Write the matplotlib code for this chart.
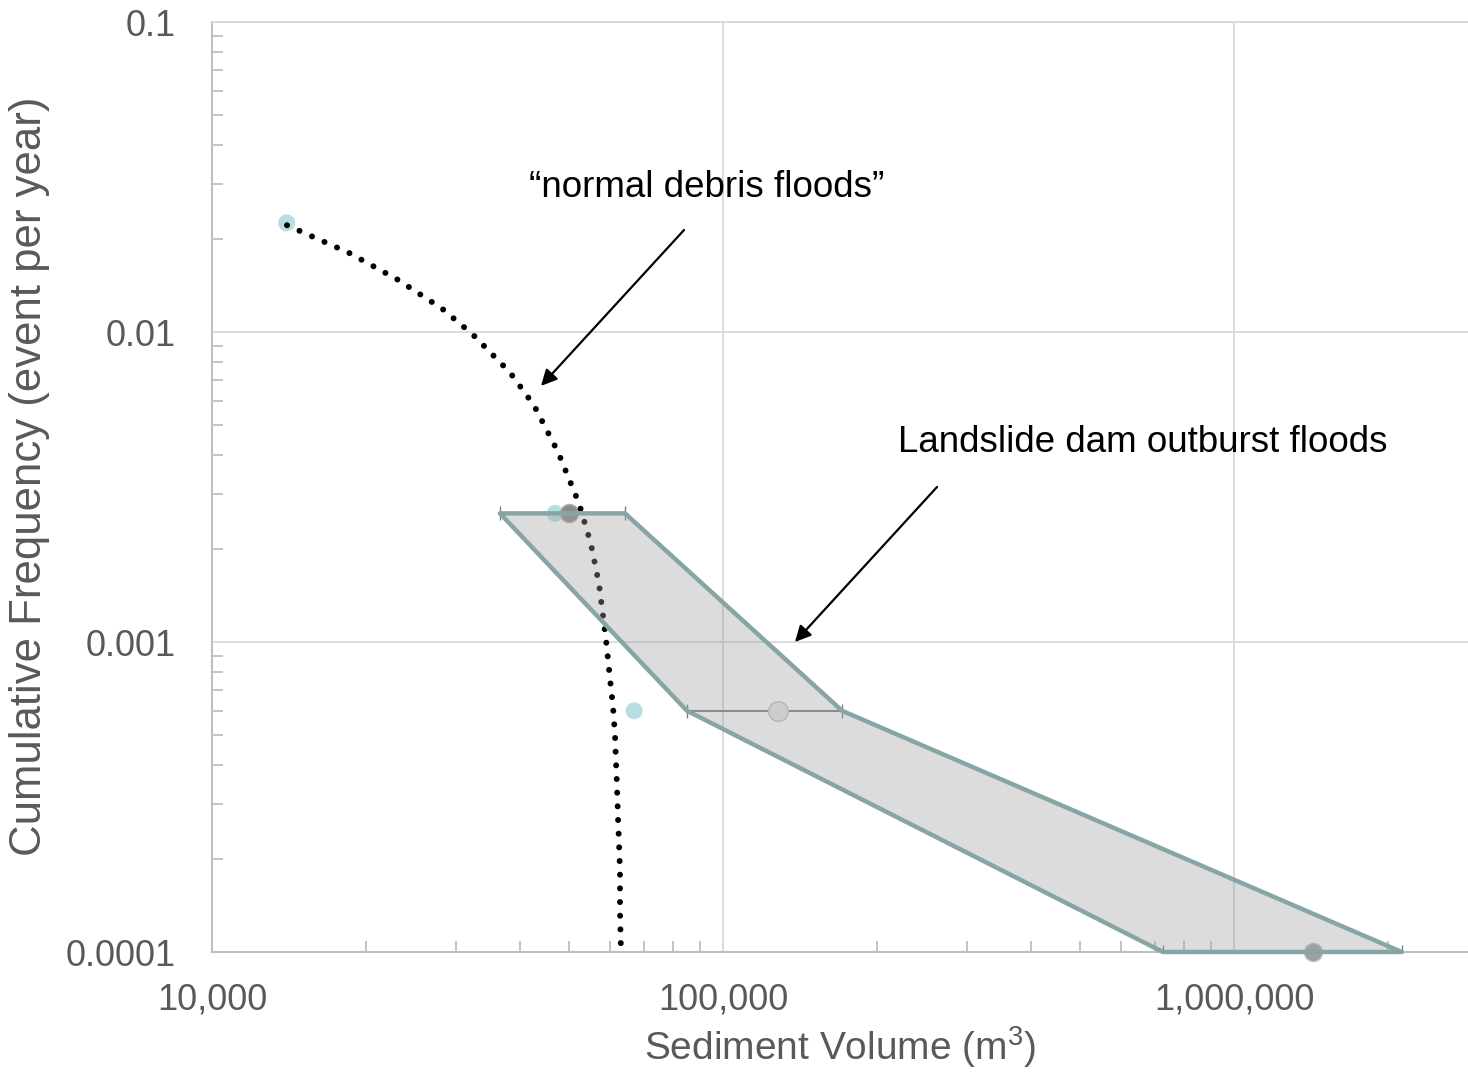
import matplotlib
matplotlib.use("Agg")
import matplotlib.pyplot as plt
from matplotlib.ticker import FixedLocator, NullFormatter, LogLocator
import numpy as np

plt.rcParams['font.family'] = ['Liberation Sans', 'DejaVu Sans']
plt.rcParams['mathtext.fontset'] = 'custom'
plt.rcParams['mathtext.rm'] = 'Liberation Sans'

# observed events
obs_x = [14000, 46900, 67000]
obs_y = [0.0225, 0.0026, 0.0006]

# events with volume ranges
ev_x = [50000, 128000, 1430000]
ev_y = [0.0026, 0.0006, 0.0001]
ev_lo = [36600, 85000, 726000]
ev_hi = [64300, 171000, 2130000]

# envelope of landslide dam outburst floods
poly_x = [36600, 64300, 171000, 2130000, 726000, 85000]
poly_y = [0.0026, 0.0026, 0.0006, 0.0001, 0.0001, 0.0006]

# "normal debris floods" curve
curve_x = [14020, 18540, 23010, 28190, 32420, 38310, 42670, 47550, 52260, 55160,
           57190, 59020, 60100, 60920, 61470, 61750, 62030, 62310, 62590, 62870,
           62870, 63150]
curve_y = [0.0221, 0.0180, 0.0148, 0.0119, 0.0098, 0.0074, 0.0058, 0.0041, 0.0028,
           0.00207, 0.00154, 0.00102, 0.00076, 0.00062, 0.00050, 0.00041, 0.00034,
           0.00027, 0.000225, 0.000181, 0.000135, 0.0001]

xticks = [10000, 100000, 1000000]
xticklabels = ['10,000', '100,000', '1,000,000']
yticks = [0.0001, 0.001, 0.01, 0.1]
yticklabels = ['0.0001', '0.001', '0.01', '0.1']

grey = '#595959'
fig = plt.figure(figsize=(14.68, 10.74), dpi=100)
ax = fig.add_axes([212/1468, 1-952/1074, 1-212/1468, (952-22)/1074])
ax.set_xscale('log')
ax.set_yscale('log')
ax.set_xlim(10000, 10**(4+(1468-212)/511))
ax.set_ylim(0.0001, 0.1)

ax.grid(True, which='major', color='#d9d9d9', lw=1.3, zorder=0)
ax.spines['right'].set_visible(False)
ax.spines['top'].set_color('#d9d9d9')
ax.spines['top'].set_linewidth(1.3)
for s in ['left', 'bottom']:
    ax.spines[s].set_color('#bfbfbf')
    ax.spines[s].set_linewidth(1.5)

ax.xaxis.set_major_locator(FixedLocator(xticks))
ax.set_xticklabels(xticklabels)
ax.yaxis.set_major_locator(FixedLocator(yticks))
ax.set_yticklabels(yticklabels)
ax.xaxis.set_minor_locator(LogLocator(base=10, subs=np.arange(2, 10)))
ax.yaxis.set_minor_locator(LogLocator(base=10, subs=np.arange(2, 10)))
ax.xaxis.set_minor_formatter(NullFormatter())
ax.yaxis.set_minor_formatter(NullFormatter())
ax.tick_params(which='major', length=0, labelsize=26, colors=grey)
ax.tick_params(axis='x', which='major', pad=22)
ax.tick_params(axis='y', which='major', pad=26)
ax.tick_params(which='minor', direction='in', length=8, width=1.3, color='#bfbfbf')

ax.set_xlabel('Sediment Volume (m$^{3}$)', fontsize=28, color=grey, labelpad=5)
ax.set_ylabel('Cumulative Frequency (event per year)', fontsize=31.5, color=grey)
ax.yaxis.set_label_coords((50 - 212) / 1256, (952 - 476) / 930)

ax.plot(curve_x, curve_y, color='black', lw=4.3, ls=(0, (0.01, 2.28)),
        dash_capstyle='round', solid_joinstyle='round', zorder=3)

ax.scatter(obs_x, obs_y, s=150, color='#b7dfe2', edgecolors='none', zorder=2)

ax.errorbar(ev_x, ev_y, xerr=[np.array(ev_x)-np.array(ev_lo), np.array(ev_hi)-np.array(ev_x)],
            fmt='none', ecolor='#7f7f7f', elinewidth=1.5, capsize=5, zorder=2)
ax.scatter(ev_x[0], ev_y[0], s=170, color='#8c8c8c', edgecolors='#b0b0b0', zorder=2)
ax.scatter(ev_x[1], ev_y[1], s=200, color='#e6e6e6', edgecolors='#c0c0d0', zorder=2)
ax.scatter(ev_x[2], ev_y[2], s=170, color='#a0a0a0', edgecolors='#a8c8e0', zorder=2,
           clip_on=False)

ax.fill(poly_x, poly_y, facecolor='#a0a0a0', alpha=0.37, edgecolor='none', zorder=4)
edge = ax.fill(poly_x, poly_y, facecolor='none', edgecolor='#87a5a5', lw=3.2,
               joinstyle='round', zorder=5)
for p in edge:
    p.set_clip_on(False)

arrow = dict(arrowstyle='-|>', color='black', lw=1.6, mutation_scale=24,
             shrinkA=0, shrinkB=0)
ax.annotate('', xy=(44040, 0.0067), xytext=(83900, 0.02133), arrowprops=arrow)
ax.text(93050, 0.02726, '\u201cnormal debris floods\u201d', fontsize=26.5,
        color='black', ha='center', va='baseline')
ax.annotate('', xy=(138300, 0.001), xytext=(262300, 0.003162), arrowprops=arrow)
ax.text(663600, 0.0041, 'Landslide dam outburst floods', fontsize=26.5,
        color='black', ha='center', va='baseline')

fig.savefig('out.png', dpi=100)
